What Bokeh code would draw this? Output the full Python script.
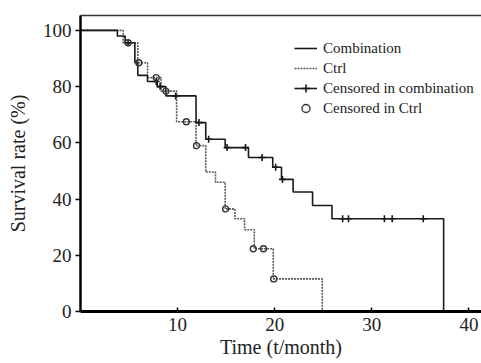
from bokeh.plotting import figure
from bokeh.models import LinearAxis, FixedTicker, Range1d, Legend, LegendItem, ColumnDataSource
from bokeh.embed import file_html
from bokeh.resources import INLINE

FONT = "Liberation Serif"

# Kaplan-Meier step data (time in months, survival in %)
comb_time = [0, 3.8, 4.6, 5.6, 5.9, 6.9, 7.9, 8.8, 11.9, 12.9, 14.9, 17.3, 19.8, 20.7, 21.9, 23.9, 25.9, 37.4]
comb_surv = [100, 98.0, 95.6, 88.5, 84.0, 81.8, 80.0, 76.7, 67.2, 61.3, 58.3, 54.8, 51.3, 47.0, 42.5, 37.7, 33.0, 0]

comb_cens_time = [4.9, 7.8, 8.2, 9.8, 12.2, 13.2, 15.1, 17.0, 18.7, 20.1, 20.8, 27.0, 27.6, 31.3, 32.1, 35.3]
comb_cens_surv = [95.6, 81.8, 80.0, 76.7, 67.2, 61.3, 58.3, 58.3, 54.8, 51.3, 47.0, 33.0, 33.0, 33.0, 33.0, 33.0]

ctrl_time = [0, 4.4, 5.9, 6.9, 8.3, 9.9, 11.9, 12.9, 13.9, 14.9, 15.9, 16.9, 17.9, 19.85, 24.9]
ctrl_surv = [100, 95.6, 88.5, 83.2, 78.4, 67.5, 59.0, 49.6, 46.0, 36.5, 33.0, 29.1, 22.3, 11.6, 0]

ctrl_cens_time = [4.9, 6.0, 7.8, 8.8, 10.9, 11.95, 14.95, 17.8, 18.85, 19.9]
ctrl_cens_surv = [95.6, 88.5, 83.2, 78.4, 67.5, 59.0, 36.5, 22.3, 22.3, 11.6]

x_ticks = [10, 20, 30, 40]
y_ticks = [0, 20, 40, 60, 80, 100]

p = figure(width=481, height=363, output_backend="svg", toolbar_location=None,
           x_range=Range1d(0, 41.3), y_range=Range1d(0, 105.3),
           x_axis_label="Time (t/month)", y_axis_label="Survival rate (%)")
p.min_border_left = 80
p.min_border_right = 0
p.min_border_top = 15
p.min_border_bottom = 52
p.outline_line_color = None
p.grid.visible = False
p.background_fill_color = "white"

TXT = "#222222"

xa = p.xaxis[0]
xa.ticker = FixedTicker(ticks=x_ticks)
xa.major_tick_in = 4
xa.major_tick_out = 0
xa.minor_tick_line_color = None
xa.axis_line_width = 3
xa.axis_line_color = "black"
xa.major_tick_line_width = 1.5
xa.major_label_standoff = 6
xa.major_label_text_font = FONT
xa.major_label_text_font_size = "19px"
xa.major_label_text_color = TXT
xa.axis_label_text_font = FONT
xa.axis_label_text_font_size = "20px"
xa.axis_label_text_font_style = "normal"
xa.axis_label_text_color = TXT
xa.axis_label_standoff = 2

ya = p.yaxis[0]
ya.ticker = FixedTicker(ticks=y_ticks)
ya.major_tick_in = 0
ya.major_tick_out = 5
ya.minor_tick_line_color = None
ya.axis_line_width = 2.5
ya.axis_line_color = "black"
ya.major_tick_line_width = 1.5
ya.major_label_standoff = 4
ya.major_label_text_font = FONT
ya.major_label_text_font_size = "19px"
ya.major_label_text_color = TXT
ya.axis_label_text_font = FONT
ya.axis_label_text_font_size = "20px"
ya.axis_label_text_font_style = "normal"
ya.axis_label_text_color = TXT
ya.axis_label_standoff = 11

top = LinearAxis(ticker=FixedTicker(ticks=[]), major_label_text_font_size="0px",
                 major_tick_line_color=None, minor_tick_line_color=None,
                 axis_line_width=1.5, axis_line_color="#333333",
                 major_tick_out=0, major_tick_in=0, major_label_standoff=0)
p.add_layout(top, "above")

comb_src = ColumnDataSource(dict(t=comb_time, s=comb_surv))
ctrl_src = ColumnDataSource(dict(t=ctrl_time, s=ctrl_surv))

r_ctrl = p.step("t", "s", source=ctrl_src, mode="after", line_color="#5a5a5a",
                line_width=1.6, line_dash="2 1")
r_comb = p.step("t", "s", source=comb_src, mode="after", line_color="#1a1a1a",
                line_width=1.6)

r_cc = p.scatter(comb_cens_time, comb_cens_surv, marker="cross", size=7,
                 line_color="#1a1a1a", line_width=1.6)
r_oc = p.scatter(ctrl_cens_time, ctrl_cens_surv, marker="circle", size=6,
                 fill_color=None, line_color="#333333", line_width=1.4)

legend = Legend(items=[
    LegendItem(label="Combination", renderers=[r_comb]),
    LegendItem(label="Ctrl", renderers=[r_ctrl]),
    LegendItem(label="Censored in combination", renderers=[r_comb, r_cc]),
    LegendItem(label="Censored in Ctrl", renderers=[r_oc]),
], location=(214, 193), orientation="vertical",
    label_text_font=FONT, label_text_font_size="15px", label_text_color=TXT,
    glyph_width=23, glyph_height=20, label_height=20, label_standoff=6,
    spacing=0, padding=0, margin=0, border_line_color=None,
    background_fill_alpha=0)
p.add_layout(legend)

open("out.html", "w").write(file_html(p, INLINE))
